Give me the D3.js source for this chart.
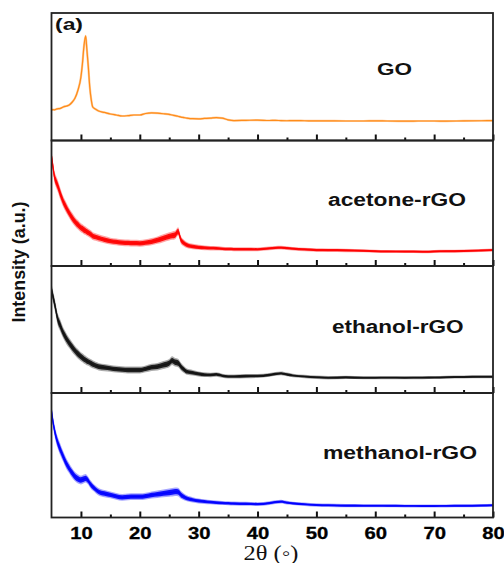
<!DOCTYPE html>
<html><head><meta charset="utf-8">
<script src="https://cdn.jsdelivr.net/npm/d3@7/dist/d3.min.js"></script>
<style>html,body{margin:0;padding:0;background:#fff;}svg{display:block;}</style>
</head><body>
<svg id="c" width="504" height="563"></svg>
<script>
// ---- data ----
const twoTheta = [5,5.25,5.5,5.75,6,6.5,7,7.5,8,8.5,9,9.5,10,10.25,10.5,10.8,11,11.25,11.5,11.75,12,12.5,13,14,15,16,17,18,19,20,21,22,23,24,25,25.5,26,26.5,27,27.5,28,29,30,31,32,33,34,35,36,38,40,42,43,44,45,46,48,50,52,55,58,60,62,65,68,70,72,75,78,80];
const goI = [23.9,24.2,24.0,24.5,24.8,25.2,26.3,27.0,27.8,30.0,33.3,39.6,49.8,60,73.3,82,72,58,42,32,26.3,24.5,23.1,22.0,20.8,20.0,19.2,19.5,20.0,20.0,21.2,21.6,21.4,21.0,20.5,20.0,19.5,19.0,18.4,18.0,17.6,17.1,17.0,17.3,17.6,18.0,17.6,16.2,15.6,15.8,16.0,15.7,15.8,15.6,15.5,15.6,15.5,15.4,15.4,15.3,15.3,15.4,15.3,15.2,15.3,15.3,15.2,15.4,15.5,15.6];
const acetoneI = [87.6,79,71.2,67.5,64.5,57.5,51.2,46.5,42.2,38.5,35.3,32.8,30.5,29.8,28.8,28.0,27.3,26.6,25.8,25.0,23.9,23.1,22.3,21.0,19.9,19.2,18.6,18.4,18.2,18.1,18.6,19.4,20.6,22.1,23.6,24.2,24.7,27.5,20.7,18.3,16.7,15.5,14.9,14.5,14.2,14.1,13.8,13.5,13.4,13.3,13.3,14.0,14.5,14.7,14.3,13.8,13.2,12.7,12.6,12.4,12.1,11.8,11.6,11.5,11.4,11.6,11.8,12.0,12.4,12.7];
const ethanolI = [81.7,76,70.9,65,59.1,53,47.2,43,39.4,36.2,33.3,30.8,28.6,27.7,26.8,25.9,25.2,24.6,24.0,23.3,22.6,21.6,20.7,20.0,19.4,18.8,18.4,18.1,18.1,18.1,19.0,20.2,20.7,22.0,23.5,25.5,24.2,23.6,20.7,18.5,16.8,16.0,15.0,14.4,14.2,14.6,13.6,13.0,13.0,13.3,13.4,14.2,15.0,15.5,14.6,13.8,13.0,12.4,12.0,12.3,12.0,12.0,12.1,12.0,12.1,12.2,12.4,12.6,12.8,12.8];
const methanolI = [85.8,77,70.3,65,60.9,54.5,48.8,43.5,39.5,35.8,32.8,31.0,30.1,30.5,31.0,31.5,30.8,29.5,27.5,26.0,24.7,22.5,20.7,19.2,18.1,17.0,16.2,16.5,16.7,16.7,17.2,18.1,18.7,19.4,20.0,20.3,20.7,20.5,18.1,16.6,15.4,14.2,13.3,12.8,12.3,11.9,11.6,11.4,11.2,11.0,10.8,11.5,12.3,12.7,11.9,11.3,10.6,10.0,9.8,9.5,9.5,9.5,9.4,9.3,9.2,9.2,9.3,9.4,9.6,9.8];
// half-width of the noise band of the rGO traces
const noiseRGO = [3.5,3.5,3.5,3.5,3.5,3.5,3.2,3.2,3.0,3.0,2.8,2.8,2.6,2.6,2.6,2.5,2.5,2.4,2.4,2.4,2.3,2.2,2.2,2.1,2.0,2.0,2.0,2.0,2.0,2.0,2.0,2.1,2.2,2.3,2.4,2.5,2.5,2.5,2.3,2.0,1.8,1.6,1.5,1.4,1.3,1.3,1.2,1.2,1.2,1.2,1.1,1.1,1.1,1.1,1.1,1.0,1.0,1.0,1.0,1.0,0.9,0.9,0.9,0.9,0.9,0.9,0.9,0.9,0.9,0.9];
const panelNames = ["GO","acetone-rGO","ethanol-rGO","methanol-rGO"];
const xMajorTicks = [10,20,30,40,50,60,70,80];
const xMinorTicks = [15,25,35,45,55,65,75];

// ---- layout ----
const svg = d3.select("#c");
const L = 51.5, R = 493;
const bounds = [13, 140.5, 266, 393, 517.5];
const colors = ["#ff8c1a","#ff0000","#111111","#0000ff"];
const seriesVals = [goI, acetoneI, ethanolI, methanolI];
const labelPos = [
  {x:377, y:75, len:35, fs:17},
  {x:328, y:206, len:138, fs:17.5},
  {x:332, y:333, len:131.5, fs:17.5},
  {x:323, y:459, len:154, fs:18}
];
const x = d3.scaleLinear().domain([5,80]).range([L,R]);
const FONT = "Liberation Sans, Arial, sans-serif";

panelNames.forEach((name,i)=>{
  const top = bounds[i], bot = bounds[i+1];
  const y = d3.scaleLinear().domain([0,100]).range([bot,top]);
  const vals = seriesVals[i];
  const pts = twoTheta.map((t,k)=>({t, v: vals[k], n: noiseRGO[k]}));
  const g = svg.append("g");
  const band = (f) => d3.area().x(d=>x(d.t)).y0(d=>y(d.v - d.n*f)).y1(d=>y(d.v + d.n*f)).curve(d3.curveMonotoneX);
  if (i > 0) {
    g.append("path").datum(pts).attr("d", band(1.35))
      .attr("fill", colors[i]).attr("fill-opacity", 0.35);
    g.append("path").datum(pts).attr("d", band(0.85))
      .attr("fill", colors[i]).attr("fill-opacity", 0.9);
    g.append("path").datum(pts)
      .attr("d", d3.line().x(d=>x(d.t)).y(d=>y(d.v)).curve(d3.curveMonotoneX))
      .attr("fill","none").attr("stroke", colors[i]).attr("stroke-width", 1.2);
  } else {
    g.append("path").datum(pts)
      .attr("d", d3.line().x(d=>x(d.t)).y(d=>y(d.v)).curve(d3.curveMonotoneX))
      .attr("fill","none").attr("stroke", colors[i]).attr("stroke-width", 2.2).attr("stroke-opacity",0.45);
    g.append("path").datum(pts)
      .attr("d", d3.line().x(d=>x(d.t)).y(d=>y(d.v)).curve(d3.curveMonotoneX))
      .attr("fill","none").attr("stroke", colors[i]).attr("stroke-width", 1.2);
  }
  // ticks (inward, at bottom of each panel)
  const ga = g.append("g").attr("transform", `translate(0,${bot})`)
    .call(d3.axisTop(x).tickValues(xMajorTicks).tickSize(6).tickFormat(""));
  ga.select(".domain").remove();
  ga.selectAll("line").attr("stroke","#111").attr("stroke-width",2);
  const gm = g.append("g").attr("transform", `translate(0,${bot})`)
    .call(d3.axisTop(x).tickValues(xMinorTicks).tickSize(3).tickFormat(""));
  gm.select(".domain").remove();
  gm.selectAll("line").attr("stroke","#111").attr("stroke-width",2);
  // frame
  g.append("rect").attr("x",L).attr("y",top).attr("width",R-L).attr("height",bot-top)
    .attr("fill","none").attr("stroke","#222").attr("stroke-width",1.8);
  // label
  const lp = labelPos[i];
  g.append("text").attr("x",lp.x).attr("y",lp.y).text(name)
    .style("font-family",FONT).style("font-weight","bold").style("font-size",lp.fs+"px")
    .attr("textLength",lp.len).attr("lengthAdjust","spacingAndGlyphs")
    .attr("fill","#111");
});

// bottom tick labels
const gl = svg.append("g").attr("transform",`translate(0,${bounds[4]})`)
  .call(d3.axisBottom(x).tickValues(xMajorTicks).tickSize(0).tickPadding(0).tickFormat(d3.format("d")));
gl.select(".domain").remove();
gl.selectAll("text").attr("y",21).attr("dy",0)
  .style("font-family",FONT).style("font-weight","900").style("font-size","16px")
  .attr("fill","#000").attr("stroke","#000").attr("stroke-width",0.3)
  .attr("textLength",22.5).attr("lengthAdjust","spacingAndGlyphs");

// (a)
svg.append("text").attr("x",55).attr("y",29.5).text("(a)")
  .style("font-family",FONT).style("font-weight","bold").style("font-size","17px")
  .attr("textLength",28).attr("lengthAdjust","spacingAndGlyphs").attr("fill","#111");

// axis titles
svg.append("text").attr("transform","translate(24.5,262) rotate(-90)").attr("text-anchor","middle")
  .text("Intensity (a.u.)")
  .style("font-family",FONT).style("font-weight","bold").style("font-size","18px")
  .attr("textLength",121).attr("lengthAdjust","spacingAndGlyphs").attr("fill","#111");
svg.append("text").attr("x",271).attr("y",560).attr("text-anchor","middle")
  .text("2θ (◦)")
  .style("font-family","Liberation Serif, DejaVu Serif, serif").style("font-size","20px")
  .attr("textLength",55).attr("lengthAdjust","spacingAndGlyphs").attr("fill","#111");
</script>
</body></html>
